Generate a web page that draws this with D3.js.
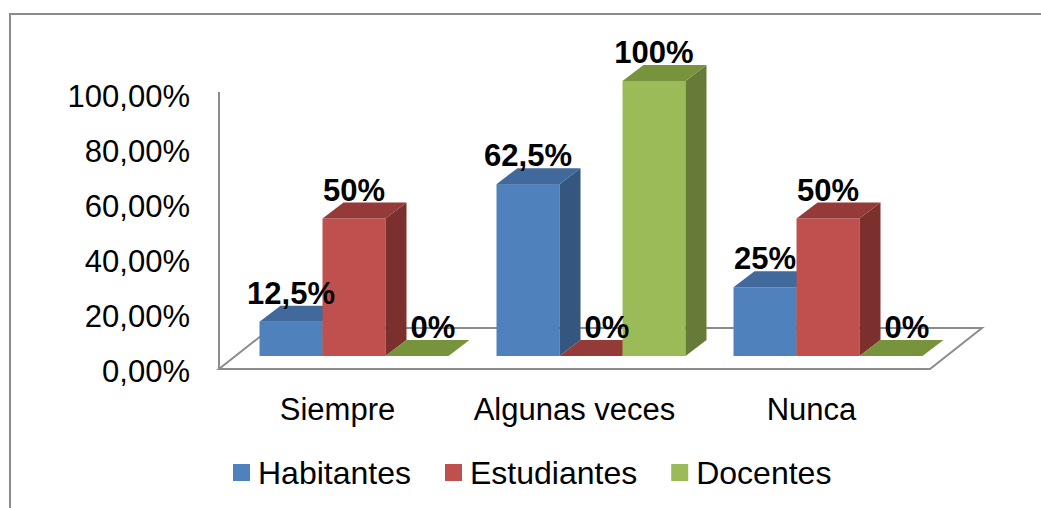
<!DOCTYPE html>
<html>
<head>
<meta charset="utf-8">
<script src="https://cdn.jsdelivr.net/npm/d3@7"></script>
<style>
  body { margin: 0; background: #fff; }
  text { font-family: "Liberation Sans", Arial, sans-serif; fill: #000; }
</style>
</head>
<body>
<div id="chart"></div>
<script>
// data
var categories = ["Siempre", "Algunas veces", "Nunca"];
var series = ["Habitantes", "Estudiantes", "Docentes"];
var habitantes = [0.125, 0.625, 0.25];
var estudiantes = [0.5, 0, 0.5];
var docentes = [0, 1, 0];
var yTicks = [0, 0.2, 0.4, 0.6, 0.8, 1];

var values = {"Habitantes": habitantes, "Estudiantes": estudiantes, "Docentes": docentes};

// colours: front, top, side
var front = {"Habitantes": "#4f81bd", "Estudiantes": "#c0504d", "Docentes": "#9bbb59"};
var topc  = {"Habitantes": "#41699b", "Estudiantes": "#943b39", "Docentes": "#77933c"};
var side  = {"Habitantes": "#35577f", "Estudiantes": "#7b302e", "Docentes": "#667b38"};

var width = 1041, height = 508;

var svg = d3.select("#chart")
  .append("svg")
    .attr("width", width)
    .attr("height", height);

// outer frame of the chart area (runs off the right and bottom)
svg.append("path")
  .attr("d", "M10," + (height + 5) + "V14H" + (width + 5))
  .style("fill", "none")
  .style("stroke", "#8c8c8c")
  .style("stroke-width", 2);

var locale = d3.formatLocale({decimal: ",", thousands: ".", grouping: [3], currency: ["", "€"]});
var axisFmt = locale.format(".2%");
var labelFmt = locale.format(".3~%");

// front plane scales
var x = d3.scaleBand()
  .domain(categories)
  .range([219, 930])
  .padding(0);

var xSub = d3.scaleBand()
  .domain(series)
  .range([0, x.bandwidth()])
  .paddingInner(0)
  .paddingOuter(0.381);

var y = d3.scaleLinear()
  .domain([0, 1])
  .range([369, 94]);

// 3d offsets: floor depth, bar plane offset, bar depth
var floorD = [52, 41], barOff = [16.5, 13], barD = [21, 16];

// floor outline
var fx0 = x.range()[0], fx1 = x.range()[1], fy = y(0);
svg.append("polygon")
  .attr("points", [[fx0, fy], [fx1, fy], [fx1 + floorD[0], fy - floorD[1]], [fx0 + floorD[0], fy - floorD[1]]].join(" "))
  .style("fill", "#fff")
  .style("stroke", "#8c8c8c")
  .style("stroke-width", 2);

// vertical axis line
svg.append("line")
  .attr("x1", fx0).attr("x2", fx0)
  .attr("y1", y(0)).attr("y2", y(1) - 2)
  .style("stroke", "#8c8c8c")
  .style("stroke-width", 2);

// axis tick labels
svg.selectAll("myTicks")
  .data(yTicks).enter()
  .append("text")
    .attr("x", 190)
    .attr("y", function(d) { return y(d) + 2; })
    .attr("dy", ".35em")
    .attr("text-anchor", "end")
    .style("font-size", "31px")
    .text(function(d) { return axisFmt(d); });

// flatten to one row per bar, left to right so sides get covered properly
var bars = [];
categories.forEach(function(c, i) {
  series.forEach(function(s) {
    bars.push({cat: c, ser: s, v: values[s][i]});
  });
});

function geom(d) {
  var x0 = x(d.cat) + xSub(d.ser) + barOff[0];
  var w = xSub.bandwidth();
  var yb = y(0) - barOff[1];
  var yt = y(d.v) - barOff[1];
  return {x0: x0, w: w, yb: yb, yt: yt};
}

var bar = svg.selectAll("myBars")
  .data(bars).enter()
  .append("g");

bar.append("rect")
  .attr("x", function(d) { return geom(d).x0; })
  .attr("y", function(d) { return geom(d).yt; })
  .attr("width", function(d) { return geom(d).w; })
  .attr("height", function(d) { var g = geom(d); return g.yb - g.yt; })
  .style("fill", function(d) { return front[d.ser]; });

bar.append("polygon")
  .attr("points", function(d) {
    var g = geom(d);
    return [[g.x0 + g.w, g.yt], [g.x0 + g.w + barD[0], g.yt - barD[1]],
            [g.x0 + g.w + barD[0], g.yb - barD[1]], [g.x0 + g.w, g.yb]].join(" ");
  })
  .style("fill", function(d) { return side[d.ser]; });

bar.append("polygon")
  .attr("points", function(d) {
    var g = geom(d);
    return [[g.x0, g.yt], [g.x0 + barD[0], g.yt - barD[1]],
            [g.x0 + g.w + barD[0], g.yt - barD[1]], [g.x0 + g.w, g.yt]].join(" ");
  })
  .style("fill", function(d) { return topc[d.ser]; });

// value labels on top of each bar
svg.selectAll("myLabels")
  .data(bars).enter()
  .append("text")
    .attr("x", function(d) { var g = geom(d); return g.x0 + g.w / 2 + (d.v == 0 ? 16 : 0); })
    .attr("y", function(d) { return geom(d).yt - barD[1] - 2; })
    .attr("text-anchor", "middle")
    .style("font-size", "31px")
    .style("font-weight", "bold")
    .text(function(d) { return labelFmt(d.v); });

// category labels
svg.selectAll("myCats")
  .data(categories).enter()
  .append("text")
    .attr("x", function(d) { return x(d) + x.bandwidth() / 2; })
    .attr("y", 420)
    .attr("text-anchor", "middle")
    .style("font-size", "31px")
    .text(function(d) { return d; });

// legend
var legend = svg.append("g")
  .attr("class", "legend");

var lx = 233;
series.forEach(function(s) {
  legend.append("rect")
    .attr("x", lx)
    .attr("y", 464)
    .attr("width", 17)
    .attr("height", 17)
    .style("fill", front[s]);
  var t = legend.append("text")
    .attr("x", lx + 25)
    .attr("y", 473)
    .attr("dy", ".35em")
    .style("font-size", "32px")
    .text(s);
  lx = lx + 25 + t.node().getComputedTextLength() + 34;
});
</script>
</body>
</html>
